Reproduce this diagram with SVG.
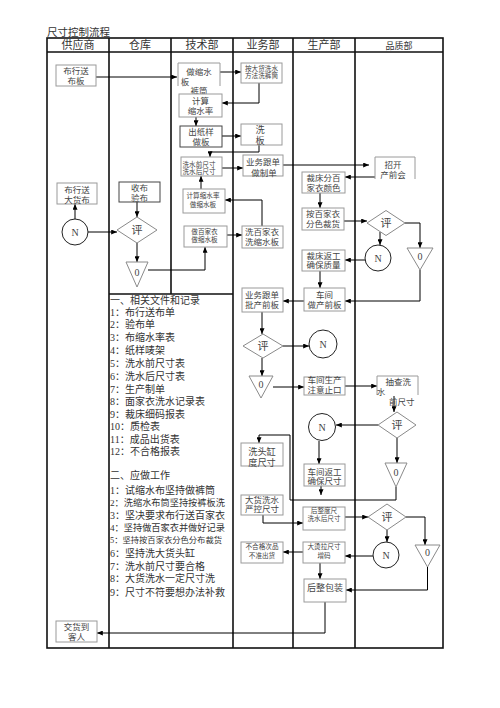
<svg xmlns="http://www.w3.org/2000/svg" width="500" height="708" viewBox="0 0 500 708">
<defs>
<marker id="ah" viewBox="0 0 7 6" refX="7" refY="3" markerWidth="6" markerHeight="5" markerUnits="userSpaceOnUse" orient="auto"><path d="M0,0 L7,3 L0,6z" fill="#000"/></marker>
<style>
.lane{stroke:#111;stroke-width:1.6;fill:none}
.box{fill:#fff;stroke:#9a9a9a;stroke-width:1}
.dk{stroke:#444}
.shape{fill:#fff;stroke:#8a8a8a;stroke-width:1}
.circ{fill:#fff;stroke:#222;stroke-width:1}
.t{font-family:"Liberation Serif","Noto Sans CJK SC",serif;fill:#444;text-anchor:middle}
.f85{font-size:8.5px}
.f65{font-size:6.6px}
.f92{font-size:9.2px}
.lt{font-family:"Liberation Serif","Noto Sans CJK SC",serif;fill:#333;font-size:10px}
.hd{font-family:"Liberation Serif","Noto Sans CJK SC",serif;fill:#333;font-size:11px;text-anchor:middle}
.con path{stroke:#000;stroke-width:1;fill:none;marker-end:url(#ah)}
</style>
</defs>
<rect width="500" height="708" fill="#fff"/>
<text class="lt" x="47" y="36" style="font-size:10.5px">尺寸控制流程</text>

<g id="lanes">
<rect class="lane" x="47" y="38" width="396" height="610"/>
<path class="lane" d="M47,52 H443 M109,38 V648 M171,38 V294 M233,38 V648 M293,38 V648 M355,38 V648 M109,294 H233"/>
<text class="hd" x="78" y="49">供应商</text>
<text class="hd" x="140" y="49">仓库</text>
<text class="hd" x="202" y="49">技术部</text>
<text class="hd" x="263" y="49">业务部</text>
<text class="hd" x="324" y="49">生产部</text>
<text class="hd" x="399" y="48.5" style="font-size:9px">品质部</text>
</g>

<g id="notes">
<text class="lt"><tspan x="110" y="303.8">一、相关文件和记录</tspan><tspan x="110" y="315.5">1：布行送布单</tspan><tspan x="110" y="328.1">2：验布单</tspan><tspan x="110" y="341">3：布缩水率表</tspan><tspan x="110" y="353.7">4：纸样唛架</tspan><tspan x="110" y="367">5：洗水前尺寸表</tspan><tspan x="110" y="379.7">6：洗水后尺寸表</tspan><tspan x="110" y="392.7">7：生产制单</tspan><tspan x="110" y="405.4">8：面家衣洗水记录表</tspan><tspan x="110" y="417.8">9：裁床细码报表</tspan><tspan x="110" y="430.4">10：质检表</tspan><tspan x="110" y="442.8">11：成品出货表</tspan><tspan x="110" y="455.4">12：不合格报表</tspan></text>
<text class="lt"><tspan x="110" y="478.8">二、应做工作</tspan><tspan x="110" y="493.8">1：试缩水布坚持做裤筒</tspan><tspan x="110" y="505.6" style="font-size:9.2px">2：洗缩水布筒坚持按裤板洗</tspan><tspan x="110" y="518.8">3：坚决要求布行送百家衣</tspan><tspan x="110" y="531.2" style="font-size:9.2px">4：坚持做百家衣并做好记录</tspan><tspan x="110" y="543.2" style="font-size:8.3px">5：坚持按百家衣分色分布裁货</tspan><tspan x="110" y="556.5">6：坚持洗大货头缸</tspan><tspan x="110" y="569.8">7：洗水前尺寸要合格</tspan><tspan x="110" y="582.1">8：大货洗水一定尺寸洗</tspan><tspan x="110" y="595.5">9：尺寸不符要想办法补救</tspan></text>
</g>

<g class="con" id="connectors">
<path d="M96,77 H177"/>
<path d="M220,72 H241"/>
<path d="M259,83 V103 H222"/>
<path d="M196,117 V126"/>
<path d="M222,136 H241"/>
<path d="M259,145 V152 H210 V157"/>
<path d="M222,168 H243"/>
<path d="M283,165 H369"/>
<path d="M375,177 H345"/>
<path d="M320,193 V208"/>
<path d="M344,221 H367"/>
<path d="M405,223 H420 V248"/>
<path d="M380,232 V245"/>
<path d="M365,260 H345"/>
<path d="M320,271 V288"/>
<path d="M420,270 V301 H345"/>
<path d="M304,301 H283"/>
<path d="M262,312 V334"/>
<path d="M283,346 H309"/>
<path d="M262,358 V376"/>
<path d="M273,387 H304"/>
<path d="M345,386 H377"/>
<path d="M394,396 V412"/>
<path d="M378,425 H336"/>
<path d="M319,441 V464"/>
<path d="M321,486 V495"/>
<path d="M397,438 V463"/>
<path d="M396,487 V500 H290 V435 H259 V443"/>
<path d="M263,515 V523 H303"/>
<path d="M345,517 H368"/>
<path d="M406,517 H425 V545"/>
<path d="M387,530 V542"/>
<path d="M373,556 H345"/>
<path d="M303,552 H283"/>
<path d="M320,563 V579"/>
<path d="M427.5,567 V590 H346"/>
<path d="M325,602 V633 H97"/>
<path d="M227,235 H242"/>
<path d="M262,226 V200 H225"/>
<path d="M201,189 V176"/>
<path d="M148,270 H205 V247"/>
<path d="M137,202 V217"/>
<path d="M88,232 H117"/>
<path d="M75,219 V204"/>
<path d="M137,243 V262"/>
</g>

<g id="n1"><rect class="box" x="56" y="65" width="40" height="21"/><text class="t f85"><tspan x="76" y="73.5">布行送</tspan><tspan x="76" y="83.5">布板</tspan></text></g>
<g id="n2"><path class="box" d="M178,86 V63 H220 V86" fill="none"/><text class="t f85"><tspan x="199" y="75">做缩水</tspan><tspan x="185" y="84.5">板</tspan><tspan x="199" y="94">裤筒</tspan></text></g>
<g id="n3"><rect class="box" x="179" y="94" width="43" height="23"/><text class="t f85"><tspan x="200.5" y="104">计算</tspan><tspan x="200.5" y="113.6">缩水率</tspan></text></g>
<g id="n4"><rect class="box dk" x="180" y="126" width="42" height="21"/><text class="t f85"><tspan x="201" y="135">出纸样</tspan><tspan x="201" y="145">做板</tspan></text></g>
<g id="n5"><rect class="box" x="241" y="63" width="41" height="20"/><text class="t f65"><tspan x="261.5" y="70.5">按大货洗水</tspan><tspan x="261.5" y="78">方法洗裤筒</tspan></text></g>
<g id="n6"><rect class="box" x="241" y="124" width="41" height="21"/><text class="t f92"><tspan x="260" y="133.3">洗</tspan><tspan x="260" y="143.8">板</tspan></text></g>
<g id="n7"><rect class="box" x="181" y="157" width="41" height="19"/><text class="t f65"><tspan x="199" y="166.5">洗水前尺寸</tspan><tspan x="199" y="174">洗水后尺寸</tspan></text></g>
<g id="n8"><rect class="box" x="243" y="155" width="40" height="21"/><text class="t f85"><tspan x="263" y="165">业务跟单</tspan><tspan x="264" y="175.5">做制单</tspan></text></g>
<g id="n9"><path class="box" d="M375,179 V157 H415 V179" fill="none"/><text class="t f85"><tspan x="393" y="168">招开</tspan><tspan x="393" y="178">产前会</tspan></text></g>
<g id="n10"><rect class="box" x="183" y="189" width="42" height="24"/><text class="t f65"><tspan x="203" y="198">计算缩水率</tspan><tspan x="203" y="206.8">做缩水板</tspan></text></g>
<g id="n11"><rect class="box" x="184" y="226" width="43" height="21"/><text class="t f65"><tspan x="204.5" y="234.2">做百家衣</tspan><tspan x="204.5" y="242">做缩水板</tspan></text></g>
<g id="n12"><rect class="box" x="242" y="226" width="41" height="22"/><text class="t f85"><tspan x="262" y="235">洗百家衣</tspan><tspan x="262" y="245">洗缩水板</tspan></text></g>
<g id="n13"><rect class="box" x="57" y="183" width="40" height="21"/><text class="t f85"><tspan x="77" y="192.5">布行送</tspan><tspan x="77" y="202.5">大货布</tspan></text></g>
<g id="n14"><circle class="circ" cx="75" cy="232" r="13"/><text class="t" x="75" y="235.6" style="font-size:10px">N</text></g>
<g id="n15"><rect class="box dk" x="119" y="182" width="41" height="20"/><text class="t f85"><tspan x="139.5" y="191.3">收布</tspan><tspan x="139.5" y="201">验布</tspan></text></g>
<g id="n16"><path class="shape" d="M117,230 L137,217 L157,230 L137,243z"/><text class="t" x="137" y="234.2" style="font-size:11px">评</text></g>
<g id="n17"><path class="shape" d="M126,262 H148 L137,287z"/><text class="t" x="137" y="275.5" style="font-size:10px">0</text></g>
<g id="n18"><rect class="box" x="302" y="172" width="43" height="21"/><text class="t f85"><tspan x="323.5" y="180.7">裁床分百</tspan><tspan x="323.5" y="190.7">家衣颜色</tspan></text></g>
<g id="n19"><rect class="box" x="302" y="208" width="42" height="22"/><text class="t f85"><tspan x="323" y="216.6">按百家衣</tspan><tspan x="323" y="227.2">分色裁货</tspan></text></g>
<g id="n20"><path class="shape" d="M367,223 L386,210.5 L405,223 L386,235.5z"/><text class="t" x="386" y="227.2" style="font-size:11px">评</text></g>
<g id="n21"><path class="shape" d="M407,248 H433 L420,270z"/><text class="t" x="420" y="259.5" style="font-size:10px">0</text></g>
<g id="n22"><circle class="circ" cx="378" cy="258" r="13"/><text class="t" x="378" y="261.6" style="font-size:10px">N</text></g>
<g id="n23"><rect class="box" x="302" y="250" width="43" height="21"/><text class="t f85"><tspan x="323.5" y="258.9">裁床返工</tspan><tspan x="323.5" y="268.4">确保质量</tspan></text></g>
<g id="n24"><rect class="box" x="304" y="288" width="41" height="23"/><text class="t f85"><tspan x="324.5" y="298.2">车间</tspan><tspan x="324.5" y="308.2">做产前板</tspan></text></g>
<g id="n25"><rect class="box" x="242" y="288" width="41" height="24"/><text class="t f85"><tspan x="262" y="298.2">业务跟单</tspan><tspan x="262" y="308.2">批产前板</tspan></text></g>
<g id="n26"><path class="shape" d="M243,346 L263,334 L283,346 L263,358z"/><text class="t" x="263" y="350.2" style="font-size:11px">评</text></g>
<g id="n27"><circle class="circ" cx="323" cy="344" r="14"/><text class="t" x="323" y="347.6" style="font-size:10px">N</text></g>
<g id="n28"><path class="shape" d="M249,376 H273 L261,398z"/><text class="t" x="261" y="387.5" style="font-size:10px">0</text></g>
<g id="n29"><rect class="box" x="304" y="377" width="41" height="18"/><text class="t f85"><tspan x="324.5" y="383.2">车间生产</tspan><tspan x="324.5" y="393.2">注意止口</tspan></text></g>
<g id="n30"><path class="box" d="M377,395 V376 H418 V395" fill="none"/><text class="t f85"><tspan x="398.3" y="384.9">抽查洗</tspan><tspan x="381" y="394.9">水</tspan><tspan x="401.7" y="404.9">前尺寸</tspan></text></g>
<g id="n31"><path class="shape" d="M378,425 L397,412 L416,425 L397,438z"/><text class="t" x="397" y="429.2" style="font-size:11px">评</text></g>
<g id="n32"><circle class="circ" cx="322" cy="427" r="13.5"/><text class="t" x="322" y="430.6" style="font-size:10px">N</text></g>
<g id="n33"><path class="shape" d="M385,463 H407 L396,487z"/><text class="t" x="396" y="475.5" style="font-size:10px">0</text></g>
<g id="n34"><rect class="box" x="304" y="464" width="41" height="22"/><text class="t f85"><tspan x="324.5" y="474.7">车间返工</tspan><tspan x="324.5" y="484.3">确保尺寸</tspan></text></g>
<g id="n35"><rect class="box" x="241" y="443" width="42" height="23"/><text class="t f92"><tspan x="262" y="455">洗头缸</tspan><tspan x="262" y="465.5">度尺寸</tspan></text></g>
<g id="n36"><rect class="box" x="241" y="495" width="42" height="20"/><text class="t f85"><tspan x="262" y="502.5">大货洗水</tspan><tspan x="262" y="512.2">严控尺寸</tspan></text></g>
<g id="n37"><rect class="box" x="303" y="507" width="42" height="23"/><text class="t f65"><tspan x="324" y="513.3">后整度尺</tspan><tspan x="324" y="520.9">洗水后尺寸</tspan></text></g>
<g id="n38"><path class="shape" d="M368,517 L387,504 L406,517 L387,530z"/><text class="t" x="387" y="521.2" style="font-size:11px">评</text></g>
<g id="n39"><path class="shape" d="M415,545 H440 L427.5,567z"/><text class="t" x="427.5" y="555.5" style="font-size:10px">0</text></g>
<g id="n40"><circle class="circ" cx="386" cy="555" r="13"/><text class="t" x="386" y="558.6" style="font-size:10px">N</text></g>
<g id="n41"><rect class="box" x="303" y="542" width="42" height="21"/><text class="t f65"><tspan x="324" y="549.3">大烫拉尺寸</tspan><tspan x="324" y="557.6">增码</tspan></text></g>
<g id="n42"><rect class="box" x="241" y="542" width="42" height="21"/><text class="t f65"><tspan x="262" y="549.3">不合格次品</tspan><tspan x="262" y="557.6">不准出货</tspan></text></g>
<g id="n43"><rect class="box" x="304" y="579" width="42" height="23"/><text class="t" x="325" y="591" style="font-size:9px">后整包装</text></g>
<g id="n44"><rect class="box" x="56" y="621" width="41" height="21"/><text class="t f85"><tspan x="76.5" y="629.9">交货到</tspan><tspan x="76.5" y="639.9">客人</tspan></text></g>
</svg>
